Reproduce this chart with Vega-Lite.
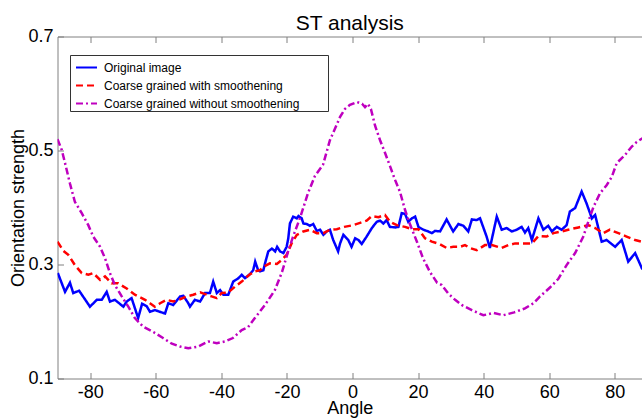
{
 "$schema": "https://vega.github.io/schema/vega-lite/v6.json",
 "width": 584.5, "height": 342,
 "autosize": {"type": "none"},
 "padding": {"left": 57.5, "top": 36.5, "right": 0, "bottom": 39.5},
 "background": "white",
 "title": {"text": "ST analysis", "font": "Liberation Sans", "fontSize": 21, "fontWeight": "normal", "color": "black", "baseline": "bottom", "offset": 4, "dy": 31, "anchor": "middle"},
 "data": {"values": [
{"s":"Original image","a":-89.9,"v":0.285},{"s":"Original image","a":-87.7,"v":0.252},{"s":"Original image","a":-86.2,"v":0.268},{"s":"Original image","a":-85.2,"v":0.250},{"s":"Original image","a":-83.4,"v":0.254},{"s":"Original image","a":-80.1,"v":0.226},{"s":"Original image","a":-78.0,"v":0.238},{"s":"Original image","a":-76.5,"v":0.238},{"s":"Original image","a":-75.0,"v":0.252},{"s":"Original image","a":-74.0,"v":0.235},{"s":"Original image","a":-72.5,"v":0.238},{"s":"Original image","a":-69.9,"v":0.226},{"s":"Original image","a":-68.9,"v":0.235},{"s":"Original image","a":-67.4,"v":0.241},{"s":"Original image","a":-65.4,"v":0.206},{"s":"Original image","a":-64.2,"v":0.231},{"s":"Original image","a":-62.8,"v":0.227},{"s":"Original image","a":-61.8,"v":0.217},{"s":"Original image","a":-60.3,"v":0.220},{"s":"Original image","a":-57.2,"v":0.214},{"s":"Original image","a":-56.2,"v":0.232},{"s":"Original image","a":-54.7,"v":0.229},{"s":"Original image","a":-52.6,"v":0.244},{"s":"Original image","a":-51.6,"v":0.245},{"s":"Original image","a":-50.1,"v":0.232},{"s":"Original image","a":-49.6,"v":0.226},{"s":"Original image","a":-48.1,"v":0.238},{"s":"Original image","a":-46.5,"v":0.235},{"s":"Original image","a":-45.0,"v":0.250},{"s":"Original image","a":-43.5,"v":0.250},{"s":"Original image","a":-42.5,"v":0.270},{"s":"Original image","a":-41.4,"v":0.250},{"s":"Original image","a":-40.4,"v":0.255},{"s":"Original image","a":-39.4,"v":0.247},{"s":"Original image","a":-37.9,"v":0.247},{"s":"Original image","a":-36.4,"v":0.270},{"s":"Original image","a":-34.8,"v":0.276},{"s":"Original image","a":-33.8,"v":0.282},{"s":"Original image","a":-32.8,"v":0.276},{"s":"Original image","a":-31.5,"v":0.282},{"s":"Original image","a":-30.3,"v":0.290},{"s":"Original image","a":-29.7,"v":0.305},{"s":"Original image","a":-28.8,"v":0.290},{"s":"Original image","a":-28.2,"v":0.288},{"s":"Original image","a":-27.2,"v":0.290},{"s":"Original image","a":-26.7,"v":0.302},{"s":"Original image","a":-25.7,"v":0.323},{"s":"Original image","a":-24.6,"v":0.328},{"s":"Original image","a":-23.6,"v":0.323},{"s":"Original image","a":-23.0,"v":0.331},{"s":"Original image","a":-22.1,"v":0.323},{"s":"Original image","a":-21.1,"v":0.320},{"s":"Original image","a":-20.1,"v":0.331},{"s":"Original image","a":-19.6,"v":0.346},{"s":"Original image","a":-19.1,"v":0.372},{"s":"Original image","a":-18.1,"v":0.384},{"s":"Original image","a":-17.0,"v":0.381},{"s":"Original image","a":-16.5,"v":0.385},{"s":"Original image","a":-15.5,"v":0.381},{"s":"Original image","a":-15.0,"v":0.372},{"s":"Original image","a":-14.0,"v":0.371},{"s":"Original image","a":-13.0,"v":0.368},{"s":"Original image","a":-12.0,"v":0.371},{"s":"Original image","a":-10.9,"v":0.359},{"s":"Original image","a":-9.9,"v":0.361},{"s":"Original image","a":-8.9,"v":0.352},{"s":"Original image","a":-7.9,"v":0.358},{"s":"Original image","a":-6.9,"v":0.361},{"s":"Original image","a":-5.9,"v":0.343},{"s":"Original image","a":-4.4,"v":0.323},{"s":"Original image","a":-3.8,"v":0.337},{"s":"Original image","a":-2.8,"v":0.352},{"s":"Original image","a":-1.3,"v":0.343},{"s":"Original image","a":-0.3,"v":0.331},{"s":"Original image","a":0.8,"v":0.346},{"s":"Original image","a":1.8,"v":0.343},{"s":"Original image","a":2.8,"v":0.336},{"s":"Original image","a":4.3,"v":0.349},{"s":"Original image","a":5.9,"v":0.364},{"s":"Original image","a":7.4,"v":0.375},{"s":"Original image","a":8.4,"v":0.377},{"s":"Original image","a":9.4,"v":0.372},{"s":"Original image","a":10.4,"v":0.378},{"s":"Original image","a":11.4,"v":0.366},{"s":"Original image","a":13.0,"v":0.365},{"s":"Original image","a":14.0,"v":0.366},{"s":"Original image","a":15.0,"v":0.390},{"s":"Original image","a":16.0,"v":0.389},{"s":"Original image","a":17.0,"v":0.375},{"s":"Original image","a":18.1,"v":0.381},{"s":"Original image","a":19.1,"v":0.384},{"s":"Original image","a":20.1,"v":0.366},{"s":"Original image","a":21.6,"v":0.361},{"s":"Original image","a":23.1,"v":0.358},{"s":"Original image","a":24.2,"v":0.355},{"s":"Original image","a":25.2,"v":0.359},{"s":"Original image","a":26.7,"v":0.358},{"s":"Original image","a":28.7,"v":0.379},{"s":"Original image","a":30.7,"v":0.358},{"s":"Original image","a":32.3,"v":0.371},{"s":"Original image","a":33.8,"v":0.368},{"s":"Original image","a":35.3,"v":0.358},{"s":"Original image","a":36.4,"v":0.379},{"s":"Original image","a":37.9,"v":0.378},{"s":"Original image","a":38.9,"v":0.381},{"s":"Original image","a":40.9,"v":0.349},{"s":"Original image","a":41.9,"v":0.329},{"s":"Original image","a":44.0,"v":0.384},{"s":"Original image","a":45.5,"v":0.361},{"s":"Original image","a":47.0,"v":0.364},{"s":"Original image","a":48.6,"v":0.358},{"s":"Original image","a":50.1,"v":0.361},{"s":"Original image","a":51.6,"v":0.366},{"s":"Original image","a":52.6,"v":0.356},{"s":"Original image","a":53.6,"v":0.364},{"s":"Original image","a":54.7,"v":0.343},{"s":"Original image","a":56.7,"v":0.381},{"s":"Original image","a":58.2,"v":0.361},{"s":"Original image","a":59.7,"v":0.368},{"s":"Original image","a":60.8,"v":0.358},{"s":"Original image","a":62.3,"v":0.366},{"s":"Original image","a":63.8,"v":0.361},{"s":"Original image","a":65.3,"v":0.369},{"s":"Original image","a":66.3,"v":0.393},{"s":"Original image","a":67.9,"v":0.399},{"s":"Original image","a":69.9,"v":0.428},{"s":"Original image","a":71.4,"v":0.407},{"s":"Original image","a":73.0,"v":0.381},{"s":"Original image","a":74.0,"v":0.387},{"s":"Original image","a":76.0,"v":0.340},{"s":"Original image","a":77.5,"v":0.343},{"s":"Original image","a":80.1,"v":0.331},{"s":"Original image","a":82.1,"v":0.343},{"s":"Original image","a":84.1,"v":0.305},{"s":"Original image","a":86.2,"v":0.320},{"s":"Original image","a":88.3,"v":0.293},{"s":"Original image","a":90.0,"v":0.285},
{"s":"Coarse grained with smoothening","a":-90,"v":0.340},{"s":"Coarse grained with smoothening","a":-88.2,"v":0.324},{"s":"Coarse grained with smoothening","a":-86.7,"v":0.317},{"s":"Coarse grained with smoothening","a":-84.7,"v":0.299},{"s":"Coarse grained with smoothening","a":-82.6,"v":0.285},{"s":"Coarse grained with smoothening","a":-80.6,"v":0.282},{"s":"Coarse grained with smoothening","a":-79.1,"v":0.285},{"s":"Coarse grained with smoothening","a":-77.0,"v":0.273},{"s":"Coarse grained with smoothening","a":-75.5,"v":0.279},{"s":"Coarse grained with smoothening","a":-73.5,"v":0.267},{"s":"Coarse grained with smoothening","a":-71.5,"v":0.267},{"s":"Coarse grained with smoothening","a":-68.9,"v":0.258},{"s":"Coarse grained with smoothening","a":-66.4,"v":0.247},{"s":"Coarse grained with smoothening","a":-63.3,"v":0.238},{"s":"Coarse grained with smoothening","a":-61.8,"v":0.232},{"s":"Coarse grained with smoothening","a":-60.3,"v":0.226},{"s":"Coarse grained with smoothening","a":-58.7,"v":0.232},{"s":"Coarse grained with smoothening","a":-56.7,"v":0.238},{"s":"Coarse grained with smoothening","a":-54.7,"v":0.235},{"s":"Coarse grained with smoothening","a":-52.6,"v":0.239},{"s":"Coarse grained with smoothening","a":-50.6,"v":0.244},{"s":"Coarse grained with smoothening","a":-48.6,"v":0.247},{"s":"Coarse grained with smoothening","a":-46.5,"v":0.251},{"s":"Coarse grained with smoothening","a":-44.5,"v":0.247},{"s":"Coarse grained with smoothening","a":-43.0,"v":0.244},{"s":"Coarse grained with smoothening","a":-41.4,"v":0.241},{"s":"Coarse grained with smoothening","a":-39.9,"v":0.250},{"s":"Coarse grained with smoothening","a":-37.9,"v":0.251},{"s":"Coarse grained with smoothening","a":-35.9,"v":0.261},{"s":"Coarse grained with smoothening","a":-33.8,"v":0.270},{"s":"Coarse grained with smoothening","a":-31.5,"v":0.282},{"s":"Coarse grained with smoothening","a":-29.8,"v":0.288},{"s":"Coarse grained with smoothening","a":-28.2,"v":0.290},{"s":"Coarse grained with smoothening","a":-27.2,"v":0.296},{"s":"Coarse grained with smoothening","a":-25.2,"v":0.302},{"s":"Coarse grained with smoothening","a":-23.1,"v":0.301},{"s":"Coarse grained with smoothening","a":-21.6,"v":0.308},{"s":"Coarse grained with smoothening","a":-20.1,"v":0.317},{"s":"Coarse grained with smoothening","a":-18.6,"v":0.337},{"s":"Coarse grained with smoothening","a":-17.0,"v":0.352},{"s":"Coarse grained with smoothening","a":-15.0,"v":0.358},{"s":"Coarse grained with smoothening","a":-13.0,"v":0.361},{"s":"Coarse grained with smoothening","a":-10.9,"v":0.355},{"s":"Coarse grained with smoothening","a":-8.9,"v":0.355},{"s":"Coarse grained with smoothening","a":-6.9,"v":0.361},{"s":"Coarse grained with smoothening","a":-4.8,"v":0.362},{"s":"Coarse grained with smoothening","a":-2.5,"v":0.366},{"s":"Coarse grained with smoothening","a":0.2,"v":0.369},{"s":"Coarse grained with smoothening","a":2.3,"v":0.373},{"s":"Coarse grained with smoothening","a":4.3,"v":0.377},{"s":"Coarse grained with smoothening","a":5.9,"v":0.385},{"s":"Coarse grained with smoothening","a":7.9,"v":0.383},{"s":"Coarse grained with smoothening","a":9.9,"v":0.387},{"s":"Coarse grained with smoothening","a":11.4,"v":0.375},{"s":"Coarse grained with smoothening","a":13.5,"v":0.369},{"s":"Coarse grained with smoothening","a":16.0,"v":0.366},{"s":"Coarse grained with smoothening","a":18.1,"v":0.362},{"s":"Coarse grained with smoothening","a":20.1,"v":0.362},{"s":"Coarse grained with smoothening","a":22.1,"v":0.346},{"s":"Coarse grained with smoothening","a":24.2,"v":0.340},{"s":"Coarse grained with smoothening","a":26.5,"v":0.336},{"s":"Coarse grained with smoothening","a":28.7,"v":0.329},{"s":"Coarse grained with smoothening","a":30.7,"v":0.331},{"s":"Coarse grained with smoothening","a":32.8,"v":0.331},{"s":"Coarse grained with smoothening","a":34.3,"v":0.334},{"s":"Coarse grained with smoothening","a":35.8,"v":0.329},{"s":"Coarse grained with smoothening","a":37.9,"v":0.325},{"s":"Coarse grained with smoothening","a":40.4,"v":0.334},{"s":"Coarse grained with smoothening","a":42.5,"v":0.334},{"s":"Coarse grained with smoothening","a":45.5,"v":0.329},{"s":"Coarse grained with smoothening","a":47.5,"v":0.334},{"s":"Coarse grained with smoothening","a":49.6,"v":0.337},{"s":"Coarse grained with smoothening","a":52.1,"v":0.337},{"s":"Coarse grained with smoothening","a":54.7,"v":0.337},{"s":"Coarse grained with smoothening","a":56.7,"v":0.350},{"s":"Coarse grained with smoothening","a":59.2,"v":0.349},{"s":"Coarse grained with smoothening","a":61.3,"v":0.355},{"s":"Coarse grained with smoothening","a":63.8,"v":0.358},{"s":"Coarse grained with smoothening","a":65.8,"v":0.361},{"s":"Coarse grained with smoothening","a":68.9,"v":0.365},{"s":"Coarse grained with smoothening","a":71.9,"v":0.369},{"s":"Coarse grained with smoothening","a":74.0,"v":0.364},{"s":"Coarse grained with smoothening","a":76.5,"v":0.355},{"s":"Coarse grained with smoothening","a":78.5,"v":0.361},{"s":"Coarse grained with smoothening","a":81.1,"v":0.355},{"s":"Coarse grained with smoothening","a":83.6,"v":0.349},{"s":"Coarse grained with smoothening","a":86.2,"v":0.343},{"s":"Coarse grained with smoothening","a":88.3,"v":0.340},{"s":"Coarse grained with smoothening","a":90,"v":0.340},
{"s":"Coarse grained without smoothening","a":-90,"v":0.520},{"s":"Coarse grained without smoothening","a":-88.7,"v":0.501},{"s":"Coarse grained without smoothening","a":-87.7,"v":0.478},{"s":"Coarse grained without smoothening","a":-86.2,"v":0.442},{"s":"Coarse grained without smoothening","a":-84.7,"v":0.410},{"s":"Coarse grained without smoothening","a":-82.6,"v":0.390},{"s":"Coarse grained without smoothening","a":-80.6,"v":0.369},{"s":"Coarse grained without smoothening","a":-79.1,"v":0.349},{"s":"Coarse grained without smoothening","a":-77.0,"v":0.331},{"s":"Coarse grained without smoothening","a":-75.5,"v":0.311},{"s":"Coarse grained without smoothening","a":-74.0,"v":0.285},{"s":"Coarse grained without smoothening","a":-72.5,"v":0.264},{"s":"Coarse grained without smoothening","a":-70.4,"v":0.244},{"s":"Coarse grained without smoothening","a":-68.4,"v":0.226},{"s":"Coarse grained without smoothening","a":-66.4,"v":0.206},{"s":"Coarse grained without smoothening","a":-63.9,"v":0.191},{"s":"Coarse grained without smoothening","a":-60.9,"v":0.182},{"s":"Coarse grained without smoothening","a":-57.8,"v":0.171},{"s":"Coarse grained without smoothening","a":-55.1,"v":0.161},{"s":"Coarse grained without smoothening","a":-52.6,"v":0.156},{"s":"Coarse grained without smoothening","a":-50.1,"v":0.153},{"s":"Coarse grained without smoothening","a":-47.1,"v":0.156},{"s":"Coarse grained without smoothening","a":-44.0,"v":0.165},{"s":"Coarse grained without smoothening","a":-41.4,"v":0.162},{"s":"Coarse grained without smoothening","a":-38.9,"v":0.165},{"s":"Coarse grained without smoothening","a":-36.5,"v":0.171},{"s":"Coarse grained without smoothening","a":-33.8,"v":0.185},{"s":"Coarse grained without smoothening","a":-31.9,"v":0.190},{"s":"Coarse grained without smoothening","a":-29.8,"v":0.206},{"s":"Coarse grained without smoothening","a":-26.7,"v":0.229},{"s":"Coarse grained without smoothening","a":-23.7,"v":0.255},{"s":"Coarse grained without smoothening","a":-21.5,"v":0.287},{"s":"Coarse grained without smoothening","a":-19.7,"v":0.322},{"s":"Coarse grained without smoothening","a":-18.2,"v":0.348},{"s":"Coarse grained without smoothening","a":-16.0,"v":0.382},{"s":"Coarse grained without smoothening","a":-13.6,"v":0.425},{"s":"Coarse grained without smoothening","a":-11.5,"v":0.455},{"s":"Coarse grained without smoothening","a":-9.0,"v":0.475},{"s":"Coarse grained without smoothening","a":-6.9,"v":0.518},{"s":"Coarse grained without smoothening","a":-3.8,"v":0.559},{"s":"Coarse grained without smoothening","a":-2.3,"v":0.573},{"s":"Coarse grained without smoothening","a":-0.8,"v":0.580},{"s":"Coarse grained without smoothening","a":1.4,"v":0.585},{"s":"Coarse grained without smoothening","a":2.9,"v":0.582},{"s":"Coarse grained without smoothening","a":3.8,"v":0.576},{"s":"Coarse grained without smoothening","a":4.7,"v":0.582},{"s":"Coarse grained without smoothening","a":5.6,"v":0.573},{"s":"Coarse grained without smoothening","a":6.9,"v":0.543},{"s":"Coarse grained without smoothening","a":8.4,"v":0.518},{"s":"Coarse grained without smoothening","a":9.9,"v":0.496},{"s":"Coarse grained without smoothening","a":11.4,"v":0.473},{"s":"Coarse grained without smoothening","a":13.0,"v":0.448},{"s":"Coarse grained without smoothening","a":14.5,"v":0.427},{"s":"Coarse grained without smoothening","a":16.0,"v":0.396},{"s":"Coarse grained without smoothening","a":17.5,"v":0.371},{"s":"Coarse grained without smoothening","a":19.7,"v":0.339},{"s":"Coarse grained without smoothening","a":21.5,"v":0.311},{"s":"Coarse grained without smoothening","a":23.6,"v":0.287},{"s":"Coarse grained without smoothening","a":25.8,"v":0.268},{"s":"Coarse grained without smoothening","a":27.2,"v":0.264},{"s":"Coarse grained without smoothening","a":29.2,"v":0.249},{"s":"Coarse grained without smoothening","a":31.3,"v":0.238},{"s":"Coarse grained without smoothening","a":33.3,"v":0.229},{"s":"Coarse grained without smoothening","a":36.4,"v":0.220},{"s":"Coarse grained without smoothening","a":39.9,"v":0.211},{"s":"Coarse grained without smoothening","a":43.0,"v":0.215},{"s":"Coarse grained without smoothening","a":46.0,"v":0.211},{"s":"Coarse grained without smoothening","a":49.3,"v":0.216},{"s":"Coarse grained without smoothening","a":52.6,"v":0.223},{"s":"Coarse grained without smoothening","a":55.2,"v":0.232},{"s":"Coarse grained without smoothening","a":57.2,"v":0.244},{"s":"Coarse grained without smoothening","a":60.3,"v":0.260},{"s":"Coarse grained without smoothening","a":62.8,"v":0.275},{"s":"Coarse grained without smoothening","a":65.3,"v":0.299},{"s":"Coarse grained without smoothening","a":67.9,"v":0.320},{"s":"Coarse grained without smoothening","a":70.4,"v":0.349},{"s":"Coarse grained without smoothening","a":71.9,"v":0.375},{"s":"Coarse grained without smoothening","a":73.5,"v":0.401},{"s":"Coarse grained without smoothening","a":75.5,"v":0.425},{"s":"Coarse grained without smoothening","a":77.5,"v":0.439},{"s":"Coarse grained without smoothening","a":79.1,"v":0.454},{"s":"Coarse grained without smoothening","a":80.6,"v":0.478},{"s":"Coarse grained without smoothening","a":83.1,"v":0.492},{"s":"Coarse grained without smoothening","a":85.2,"v":0.507},{"s":"Coarse grained without smoothening","a":86.7,"v":0.515},{"s":"Coarse grained without smoothening","a":88.3,"v":0.521},{"s":"Coarse grained without smoothening","a":90,"v":0.525}
 ]},
 "layer": [
  {
   "mark": {"type": "line", "strokeWidth": 2.5, "clip": true},
   "encoding": {
    "x": {"field": "a", "type": "quantitative", "scale": {"domain": [-90, 88.3], "nice": false, "zero": false},
          "axis": {"orient": "bottom", "values": [-80, -60, -40, -20, 0, 20, 40, 60, 80], "labelExpr": "'' + datum.value", "title": "Angle", "tickSize": -6, "labelPadding": 11, "titlePadding": -2, "grid": false}},
    "y": {"field": "v", "type": "quantitative", "scale": {"domain": [0.1, 0.7], "nice": false, "zero": false},
          "axis": {"orient": "left", "values": [0.1, 0.3, 0.5, 0.7], "labelExpr": "format(datum.value, '.1f')", "title": "Orientation strength", "tickSize": -6, "labelPadding": 10.5, "titlePadding": 0, "grid": false}},
    "color": {"field": "s", "type": "nominal",
              "scale": {"domain": ["Original image", "Coarse grained with smoothening", "Coarse grained without smoothening"], "range": ["#0000ff", "#ff0000", "#bf00bf"]},
              "legend": {"orient": "none", "legendX": 12.5, "legendY": 18.5, "title": null, "symbolType": "stroke", "symbolSize": 441, "symbolStrokeWidth": 2, "symbolOffset": 4, "labelOffset": 6, "labelFont": "Liberation Sans", "labelFontSize": 12, "labelColor": "black", "labelLimit": 500, "strokeColor": "#333333", "fillColor": "white", "padding": 1, "rowPadding": 0, "labelExpr": "datum.label + '\u2800\u2800\u2800'"}},
    "strokeDash": {"field": "s", "type": "nominal",
              "scale": {"domain": ["Original image", "Coarse grained with smoothening", "Coarse grained without smoothening"], "range": [[1, 0], [7, 4], [7, 3, 2, 3]]},
              "legend": {"orient": "none", "legendX": 12.5, "legendY": 18.5, "title": null, "symbolType": "stroke", "symbolSize": 441, "symbolStrokeWidth": 2, "symbolOffset": 4, "labelOffset": 6, "labelFont": "Liberation Sans", "labelFontSize": 12, "labelColor": "black", "labelLimit": 500, "strokeColor": "#333333", "fillColor": "white", "padding": 1, "rowPadding": 0, "labelExpr": "datum.label + '\u2800\u2800\u2800'"}}
   }
  },
  {
   "mark": {"type": "line", "strokeOpacity": 0},
   "encoding": {
    "x": {"field": "a", "type": "quantitative", "axis": {"orient": "top", "values": [-80, -60, -40, -20, 0, 20, 40, 60, 80], "labels": false, "title": null, "domain": true, "ticks": true, "tickSize": -6, "grid": false, "minExtent": 0, "maxExtent": 0, "labelPadding": 0}},
    "y": {"field": "v", "type": "quantitative", "axis": null},
    "detail": {"field": "s"}
   }
  }
 ],
 "resolve": {"axis": {"x": "independent", "y": "independent"}},
 "config": {
  "view": {"stroke": null},
  "axis": {"domainColor": "#808080", "tickColor": "#808080", "domainWidth": 1, "tickWidth": 1, "labelFont": "Liberation Sans", "labelFontSize": 18, "labelColor": "#000000", "titleFont": "Liberation Sans", "titleFontSize": 18, "titleFontWeight": "normal", "titleColor": "#000000"}
 }
}
